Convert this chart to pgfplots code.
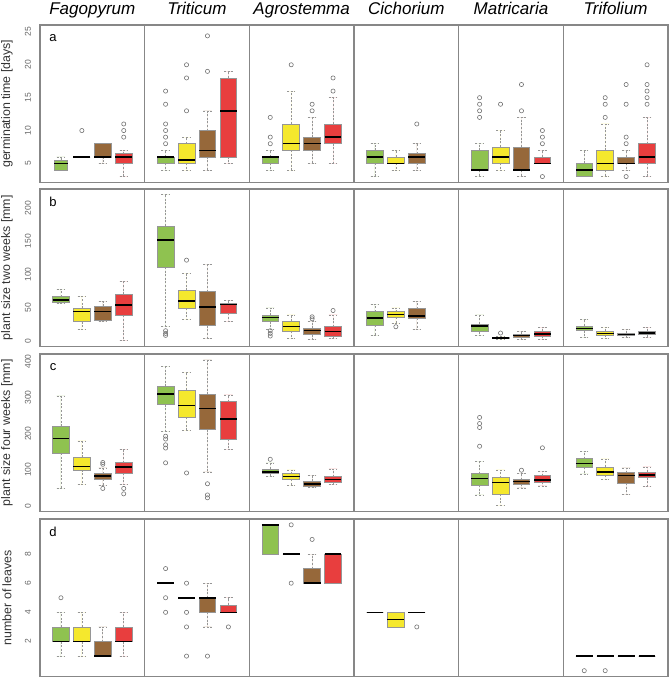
\documentclass[border=0pt]{standalone}
\usepackage{fontspec}
\setmainfont{Liberation Sans}
\usepackage{pgfplots}
\pgfplotsset{compat=1.18}
\usepgfplotslibrary{statistics}
\definecolor{cg}{RGB}{143,194,80}
\definecolor{cy}{RGB}{245,232,45}
\definecolor{cb}{RGB}{150,104,58}
\definecolor{cr}{RGB}{232,62,62}
\definecolor{fr}{RGB}{135,135,135}
\definecolor{bgray}{RGB}{150,150,150}
\definecolor{ogray}{RGB}{115,115,115}

\newcommand{\bx}[9][]{%
 \addplot[fill=#3, draw=bgray, line width=0.6pt, mark=o, mark size=2.1pt,
   mark options={draw=ogray, line width=0.6pt, solid}, #1,
   boxplot prepared={draw position=#2, lower whisker=#4, lower quartile=#5,
     median=#6, upper quartile=#7, upper whisker=#8}]
   coordinates {#9};}

\pgfplotsset{rowstyle/.style={
  scale only axis, width=628pt, height=157.5pt,
  xmin=0, xmax=30, xtick={5,10,15,20,25}, xticklabels={},
  xmajorgrids, major grid style={draw=fr, line width=1.1pt},
  axis line style={draw=fr, line width=1.1pt},
  major tick length=0pt,
  yticklabel style={rotate=90, anchor=center, font=\fontsize{8.5}{8.5}\selectfont, text=black!60},
  yticklabel shift=12pt,
  ylabel style={at={(axis description cs:-0.05255,0.5)}, anchor=center,
     font=\fontsize{12.4}{13}\selectfont, text=black!80},
  /pgf/number format/assume math mode=true,
  boxplot/draw direction=y, boxplot/box extend=0.8, boxplot/whisker extend=0.4,
  boxplot/every whisker/.style={draw=bgray, dash pattern=on 2pt off 1.6pt, line width=0.6pt},
  boxplot/every median/.style={draw=black, line width=1.5pt},
  boxplot/every box/.style={draw=bgray, line width=0.7pt},
  clip=false,
}}
\newcommand{\letter}[1]{\node[font=\fontsize{13}{13}\selectfont, anchor=center, xshift=13pt, yshift=-13pt] at (rel axis cs:0,1) {#1};}

\begin{document}
\begin{tikzpicture}
\useasboundingbox (0,0) rectangle (669pt,-680pt);
% ---------- row a
\begin{axis}[rowstyle, at={(40pt,-25pt)}, anchor=north west,
  ymin=2.1, ymax=26.05, ytick={5,10,15,20,25}, ylabel={germination time [days]}]
\bx[boxplot/box extend=0.64]{1}{cg}{4}{4}{5}{5.5}{6}{}
\bx{2}{cy}{6}{6}{6}{6}{6}{(0,10)}
\bx{3}{cb}{5}{6}{6}{8}{8}{}
\bx{4}{cr}{3}{5}{6}{6.5}{7}{(0,9)(0,10)(0,11)}
\bx{6}{cg}{4}{5}{6}{6}{7}{(0,8)(0,9)(0,10)(0,11)(0,14)(0,16)}
\bx{7}{cy}{4}{5}{5.5}{8}{9}{(0,13)(0,18)(0,20)}
\bx{8}{cb}{4}{6}{7}{10}{13}{(0,19)(0,24.4)}
\bx{9}{cr}{5}{6}{13}{18}{19}{}
\bx{11}{cg}{4}{5}{6}{6}{7}{(0,8)(0,9)(0,12)}
\bx{12}{cy}{4}{7}{8}{11}{16}{(0,20)}
\bx{13}{cb}{5}{7}{8}{9}{12}{(0,13)(0,14)}
\bx{14}{cr}{5}{8}{9}{11}{15}{(0,16)(0,18)}
\bx{16}{cg}{3}{5}{6}{7}{8}{}
\bx{17}{cy}{4}{5}{5}{6}{7}{}
\bx{18}{cb}{4}{5}{6}{6.5}{8}{(0,11)}
\bx{21}{cg}{3}{4}{4}{7}{8}{(0,12)(0,13)(0,14)(0,15)}
\bx{22}{cy}{4}{5}{6}{7.5}{10}{(0,14)}
\bx{23}{cb}{3}{4}{4}{7.5}{12}{(0,13)(0,17)}
\bx{24}{cr}{5}{5}{5}{6}{7}{(0,3)(0,8)(0,9)(0,10)}
\bx{26}{cg}{3}{3}{4}{5}{7}{}
\bx{27}{cy}{3}{4}{5}{7}{11}{(0,12)(0,14)(0,15)}
\bx{28}{cb}{4}{5}{5}{6}{7}{(0,3)(0,8)(0,9)(0,14)(0,17)}
\bx{29}{cr}{3}{5}{6}{8}{12}{(0,14)(0,15)(0,16)(0,17)(0,20)}
\letter{a}
\node[anchor=base, yshift=11pt, font=\fontsize{17}{17}\selectfont\itshape] at (rel axis cs:0.08333,1) {Fagopyrum};
\node[anchor=base, yshift=11pt, font=\fontsize{17}{17}\selectfont\itshape] at (rel axis cs:0.25,1) {Triticum};
\node[anchor=base, yshift=11pt, font=\fontsize{17}{17}\selectfont\itshape] at (rel axis cs:0.41667,1) {Agrostemma};
\node[anchor=base, yshift=11pt, font=\fontsize{17}{17}\selectfont\itshape] at (rel axis cs:0.58333,1) {Cichorium};
\node[anchor=base, yshift=11pt, font=\fontsize{17}{17}\selectfont\itshape] at (rel axis cs:0.75,1) {Matricaria};
\node[anchor=base, yshift=11pt, font=\fontsize{17}{17}\selectfont\itshape] at (rel axis cs:0.91667,1) {Trifolium};
\end{axis}
% ---------- row b
\begin{axis}[rowstyle, at={(40pt,-189pt)}, anchor=north west,
  ymin=-8.8, ymax=228.8, ytick={0,50,100,150,200}, ylabel={plant size two weeks [mm]}]
\bx{1}{cg}{56}{58.5}{61.5}{66.5}{77.5}{}
\bx{2}{cy}{17.5}{28.5}{44}{49}{67}{}
\bx{3}{cb}{28.5}{30.5}{44}{52}{59}{}
\bx{4}{cr}{0}{38}{54}{70}{90}{}
\bx{6}{cg}{22}{111}{151.5}{173}{220.5}{(0,8)(0,11)(0,15)}
\bx{7}{cy}{32}{49}{60}{76}{101}{(0,121.5)}
\bx{8}{cb}{3.5}{22.5}{50.5}{74}{114.5}{}
\bx{9}{cr}{29}{41}{54.5}{57}{60.5}{}
\bx{11}{cg}{17.5}{28.5}{35}{38.5}{49.5}{(0,7)(0,11)(0,15)}
\bx{12}{cy}{3.5}{14}{21}{29}{39}{}
\bx{13}{cb}{2}{9}{15}{18.5}{29}{(0,33)(0,36)}
\bx{14}{cr}{3.5}{6.5}{14}{21}{39}{(0,45.5)}
\bx{16}{cg}{8}{23}{34.5}{44}{54.5}{}
\bx{17}{cy}{26}{35.5}{39.5}{44}{49.5}{(0,21)}
\bx{18}{cb}{16.5}{33.5}{37.5}{48.5}{59}{}
\bx{21}{cg}{7.5}{13.5}{22.5}{25}{39}{}
\bx{22}{cy}{2}{3}{4}{5.5}{6}{(0,11.5)}
\bx{23}{cb}{2}{4.5}{7.5}{9.5}{14}{}
\bx{24}{cr}{2}{6.5}{10}{14}{20}{}
\bx{26}{cg}{5.5}{15}{18}{22}{32}{}
\bx{27}{cy}{3.5}{8}{11}{14}{20}{}
\bx{28}{cb}{4.5}{7.5}{9.5}{11.5}{16.5}{}
\bx{29}{cr}{5.5}{9}{11.5}{14}{20}{}
\letter{b}
\end{axis}
% ---------- row c
\begin{axis}[rowstyle, at={(40pt,-354pt)}, anchor=north west,
  ymin=-16, ymax=421, ytick={0,100,200,300,400}, ylabel={plant size four weeks [mm]}]
\bx{1}{cg}{47.5}{146}{186}{220}{305}{}
\bx{2}{cy}{60}{99.5}{108.7}{134}{180}{}
\bx{3}{cb}{55.7}{73}{83}{88.6}{105}{(0,48)(0,115)(0,120)}
\bx{4}{cr}{60}{91}{107}{119.6}{157}{(0,33)(0,48)}
\bx{6}{cg}{206}{280}{310.5}{331.5}{387}{(0,119)(0,160)(0,169)(0,185)(0,193)}
\bx{7}{cy}{209}{245}{278.5}{321.5}{371}{(0,91)}
\bx{8}{cb}{94}{211}{269.4}{309.6}{404.6}{(0,22)(0,30)(0,61)}
\bx{9}{cr}{155.3}{184.5}{241}{288.6}{307.8}{}
\bx{11}{cg}{80.4}{88.6}{94}{102}{118.7}{(0,128.8)}
\bx{12}{cy}{57.5}{73}{81.3}{88.6}{99.5}{}
\bx{13}{cb}{51}{54.8}{60.3}{67.6}{84}{}
\bx{14}{cr}{60.3}{65.8}{73}{80.4}{102}{}
\bx{21}{cg}{30}{57.5}{75}{88.6}{124}{(0,165)(0,217)(0,228)(0,245)}
\bx{22}{cy}{1}{32}{65}{77.6}{99.5}{}
\bx{23}{cb}{49.3}{60.3}{67.6}{72}{90.4}{(0,98.6)}
\bx{24}{cr}{55}{65}{72}{83}{96}{(0,160.7)}
\bx{26}{cg}{88.6}{107}{117.8}{130.6}{151.6}{}
\bx{27}{cy}{72}{85}{94}{107.8}{129.7}{}
\bx{28}{cb}{31}{63}{84}{92}{105}{}
\bx{29}{cr}{53}{77.6}{85.8}{94}{107.8}{}
\letter{c}
\end{axis}
% ---------- row d
\begin{axis}[rowstyle, at={(40pt,-519pt)}, anchor=north west,
  ymin=-0.4, ymax=10.4, ytick={2,4,6,8}, ylabel={number of leaves}]
\bx{1}{cg}{1}{2}{2}{3}{4}{(0,5)}
\bx{2}{cy}{1}{2}{2}{3}{4}{}
\bx{3}{cb}{1}{1}{1}{2}{3}{}
\bx{4}{cr}{1}{2}{2}{3}{4}{}
\bx{6}{cg}{6}{6}{6}{6}{6}{(0,4)(0,5)(0,7)}
\bx{7}{cy}{5}{5}{5}{5}{5}{(0,1)(0,3)(0,4)(0,6)}
\bx{8}{cb}{3}{4}{5}{5}{6}{(0,1)}
\bx{9}{cr}{4}{4}{4}{4.5}{5}{(0,3)}
\bx{11}{cg}{8}{8}{10}{10}{10}{}
\bx{12}{cy}{8}{8}{8}{8}{8}{(0,6)(0,10)}
\bx{13}{cb}{6}{6}{6}{7}{8}{(0,9)}
\bx{14}{cr}{6}{6}{8}{8}{8}{}
\bx{16}{cg}{4}{4}{4}{4}{4}{}
\bx{17}{cy}{3}{3}{3.5}{4}{4}{}
\bx{18}{cb}{4}{4}{4}{4}{4}{(0,3)}
\bx{26}{cg}{1}{1}{1}{1}{1}{(0,0)}
\bx{27}{cy}{1}{1}{1}{1}{1}{(0,0)}
\bx{28}{cb}{1}{1}{1}{1}{1}{}
\bx{29}{cr}{1}{1}{1}{1}{1}{}
\letter{d}
\end{axis}
\end{tikzpicture}
\end{document}
